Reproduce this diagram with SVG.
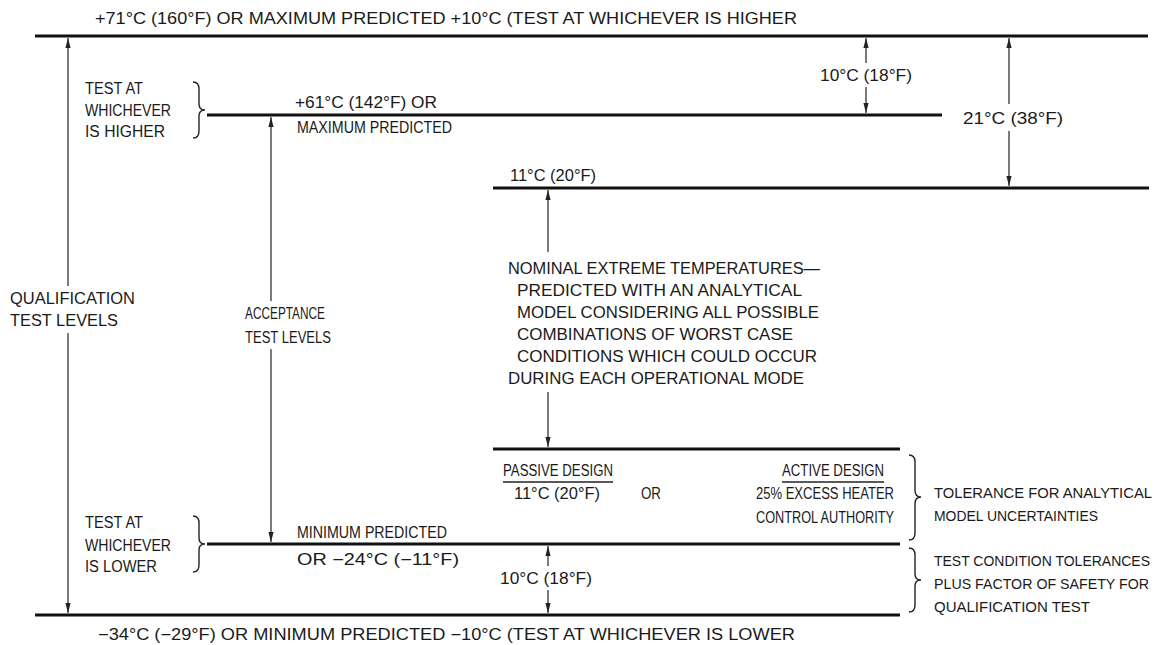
<svg xmlns="http://www.w3.org/2000/svg" width="1175" height="645" viewBox="0 0 1175 645">
<style>
text{font-family:"Liberation Sans","DejaVu Sans",sans-serif;font-size:16px;fill:#1a1a1a;}
text.r{font-size:14.5px;}
.lvl{stroke:#111;stroke-width:3;fill:none;}
.arr{stroke:#222;stroke-width:1.2;fill:none;marker-end:url(#ah);}
.brace{stroke:#222;stroke-width:1.4;fill:none;}
.ul{stroke:#222;stroke-width:1.4;}
</style>
<defs>
<marker id="ah" markerUnits="userSpaceOnUse" markerWidth="12" markerHeight="8" viewBox="-11 -4 12 8" refX="0" refY="0" orient="auto">
<path d="M0,0 L-10,-2.6 L-10,2.6 Z" fill="#222"/>
</marker>
</defs>
<rect width="1175" height="645" fill="#fff"/>

<g id="levels">
<line class="lvl" x1="35" y1="36" x2="1148" y2="36"/>
<line class="lvl" x1="207" y1="115" x2="942" y2="115"/>
<line class="lvl" x1="493" y1="188" x2="1149" y2="188"/>
<line class="lvl" x1="493" y1="449" x2="900" y2="449"/>
<line class="lvl" x1="207" y1="544" x2="900" y2="544"/>
<line class="lvl" x1="35" y1="615" x2="900" y2="615"/>
</g>

<g id="connectors">
<line class="arr" x1="68" y1="286" x2="68" y2="38"/>
<line class="arr" x1="68" y1="333" x2="68" y2="613"/>
<line class="arr" x1="271" y1="301" x2="271" y2="117"/>
<line class="arr" x1="271" y1="349" x2="271" y2="542"/>
<line class="arr" x1="866" y1="63" x2="866" y2="38"/>
<line class="arr" x1="866" y1="87" x2="866" y2="113"/>
<line class="arr" x1="1009" y1="104" x2="1009" y2="38"/>
<line class="arr" x1="1009" y1="131" x2="1009" y2="186"/>
<line class="arr" x1="548" y1="252" x2="548" y2="190"/>
<line class="arr" x1="548" y1="392" x2="548" y2="447"/>
<line class="arr" x1="548" y1="566" x2="548" y2="546"/>
<line class="arr" x1="548" y1="590" x2="548" y2="613"/>
</g>

<g id="top-label">
<text x="95" y="24" textLength="702" lengthAdjust="spacingAndGlyphs">+71°C (160°F) OR MAXIMUM PREDICTED +10°C (TEST AT WHICHEVER IS HIGHER</text>
</g>

<g id="qual-margin-top">
<text x="866" y="81" text-anchor="middle" textLength="92" lengthAdjust="spacingAndGlyphs">10°C (18°F)</text>
</g>

<g id="span-21">
<text x="1013" y="124" text-anchor="middle" textLength="100" lengthAdjust="spacingAndGlyphs">21°C (38°F)</text>
</g>

<g id="test-higher">
<text x="85" y="94" textLength="58" lengthAdjust="spacingAndGlyphs">TEST AT</text>
<text x="85" y="116" textLength="86" lengthAdjust="spacingAndGlyphs">WHICHEVER</text>
<text x="85" y="137" textLength="80" lengthAdjust="spacingAndGlyphs">IS HIGHER</text>
<path class="brace" d="M193,82 Q199,82 199,89 L199,104 Q199,110 205,110 Q199,110 199,116 L199,131 Q199,138 193,138"/>
</g>

<g id="accept-max">
<text x="295" y="108" textLength="142" lengthAdjust="spacingAndGlyphs">+61°C (142°F) OR</text>
<text x="297" y="133" textLength="155" lengthAdjust="spacingAndGlyphs">MAXIMUM PREDICTED</text>
</g>

<g id="nominal-max">
<text x="510" y="181" textLength="86" lengthAdjust="spacingAndGlyphs">11°C (20°F)</text>
</g>

<g id="qualification">
<text x="10" y="304" textLength="125" lengthAdjust="spacingAndGlyphs">QUALIFICATION</text>
<text x="10" y="326" textLength="108" lengthAdjust="spacingAndGlyphs">TEST LEVELS</text>
</g>

<g id="acceptance">
<text x="245" y="319" textLength="80" lengthAdjust="spacingAndGlyphs">ACCEPTANCE</text>
<text x="245" y="343" textLength="86" lengthAdjust="spacingAndGlyphs">TEST LEVELS</text>
</g>

<g id="nominal">
<text x="508" y="274" textLength="312" lengthAdjust="spacingAndGlyphs">NOMINAL EXTREME TEMPERATURES—</text>
<text x="517" y="296" textLength="285" lengthAdjust="spacingAndGlyphs">PREDICTED WITH AN ANALYTICAL</text>
<text x="517" y="318" textLength="302" lengthAdjust="spacingAndGlyphs">MODEL CONSIDERING ALL POSSIBLE</text>
<text x="517" y="340" textLength="276" lengthAdjust="spacingAndGlyphs">COMBINATIONS OF WORST CASE</text>
<text x="517" y="362" textLength="300" lengthAdjust="spacingAndGlyphs">CONDITIONS WHICH COULD OCCUR</text>
<text x="508" y="384" textLength="296" lengthAdjust="spacingAndGlyphs">DURING EACH OPERATIONAL MODE</text>
</g>

<g id="design">
<text x="503" y="476" textLength="110" lengthAdjust="spacingAndGlyphs">PASSIVE DESIGN</text>
<line class="ul" x1="503" y1="482" x2="613" y2="482"/>
<text x="514" y="499" textLength="86" lengthAdjust="spacingAndGlyphs">11°C (20°F)</text>
<text x="641" y="499" textLength="20" lengthAdjust="spacingAndGlyphs">OR</text>
<text x="782" y="476" textLength="102" lengthAdjust="spacingAndGlyphs">ACTIVE DESIGN</text>
<line class="ul" x1="782" y1="482" x2="884" y2="482"/>
<text x="756" y="499" textLength="138" lengthAdjust="spacingAndGlyphs">25% EXCESS HEATER</text>
<text x="756" y="523" textLength="138" lengthAdjust="spacingAndGlyphs">CONTROL AUTHORITY</text>
</g>

<g id="tolerance-analytical">
<path class="brace" d="M909,455 Q915,455 915,462 L915,490 Q915,497 921,497 Q915,497 915,504 L915,533 Q915,540 909,540"/>
<text class="r" x="934" y="498" textLength="218" lengthAdjust="spacingAndGlyphs">TOLERANCE FOR ANALYTICAL</text>
<text class="r" x="934" y="521" textLength="164" lengthAdjust="spacingAndGlyphs">MODEL UNCERTAINTIES</text>
</g>

<g id="test-lower">
<text x="85" y="528" textLength="58" lengthAdjust="spacingAndGlyphs">TEST AT</text>
<text x="85" y="551" textLength="86" lengthAdjust="spacingAndGlyphs">WHICHEVER</text>
<text x="85" y="572" textLength="72" lengthAdjust="spacingAndGlyphs">IS LOWER</text>
<path class="brace" d="M193,516 Q199,516 199,523 L199,538 Q199,544 205,544 Q199,544 199,550 L199,565 Q199,572 193,572"/>
</g>

<g id="accept-min">
<text x="297" y="538" textLength="150" lengthAdjust="spacingAndGlyphs">MINIMUM PREDICTED</text>
<text x="297" y="565" textLength="162" lengthAdjust="spacingAndGlyphs">OR −24°C (−11°F)</text>
</g>

<g id="qual-margin-bottom">
<text x="546" y="584" text-anchor="middle" textLength="92" lengthAdjust="spacingAndGlyphs">10°C (18°F)</text>
</g>

<g id="test-tolerances">
<path class="brace" d="M909,548 Q915,548 915,555 L915,574 Q915,580 921,580 Q915,580 915,586 L915,605 Q915,612 909,612"/>
<text class="r" x="934" y="566" textLength="216" lengthAdjust="spacingAndGlyphs">TEST CONDITION TOLERANCES</text>
<text class="r" x="934" y="589" textLength="215" lengthAdjust="spacingAndGlyphs">PLUS FACTOR OF SAFETY FOR</text>
<text class="r" x="934" y="612" textLength="156" lengthAdjust="spacingAndGlyphs">QUALIFICATION TEST</text>
</g>

<g id="bottom-label">
<text x="98" y="640" textLength="697" lengthAdjust="spacingAndGlyphs">−34°C (−29°F) OR MINIMUM PREDICTED −10°C (TEST AT WHICHEVER IS LOWER</text>
</g>
</svg>
